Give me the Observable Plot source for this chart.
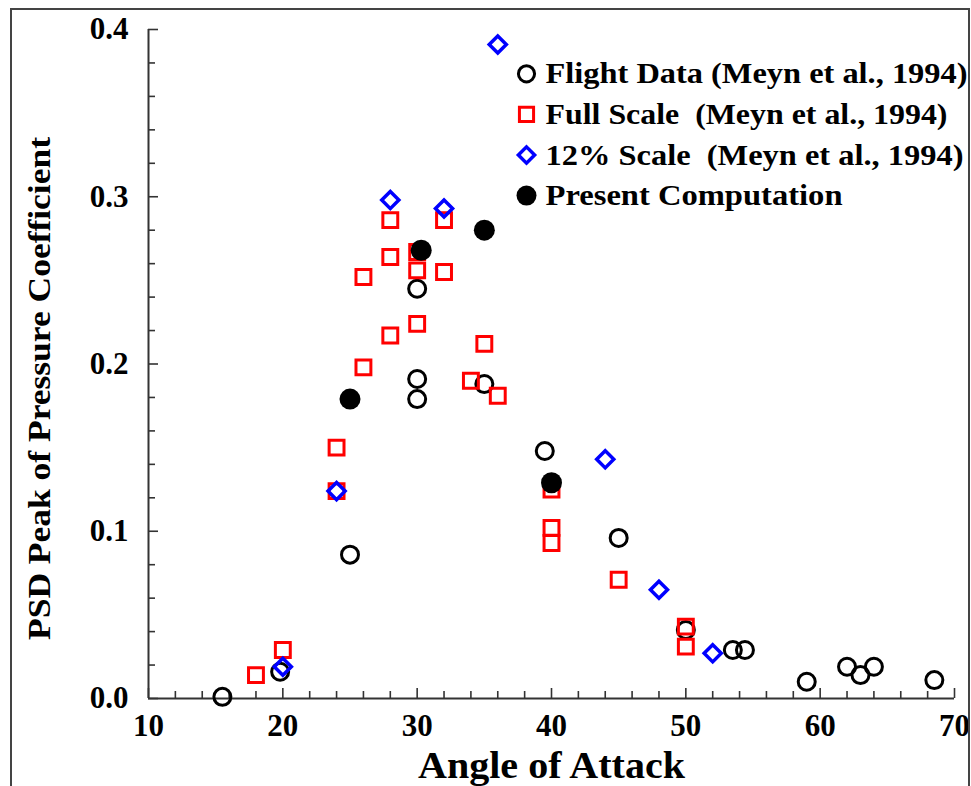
<!DOCTYPE html>
<html><head><meta charset="utf-8">
<script src="https://cdn.jsdelivr.net/npm/d3@7"></script>
<script src="https://cdn.jsdelivr.net/npm/@observablehq/plot@0.6"></script>
<style>
body{margin:0;background:#fff;}
#wrap{position:relative;width:971px;height:786px;overflow:hidden;}
#frame{position:absolute;left:10px;top:8px;width:956px;height:800px;border:2px solid #444;border-bottom:none;pointer-events:none;z-index:2;}
</style></head><body><div id="wrap"><div id="chart"></div><div id="frame"></div></div>
<script>
// Flight Data (Meyn et al., 1994)
const flightAlpha = [15.5, 19.8, 25, 30, 30, 30, 35, 39.5, 45, 50, 53.5, 54.4, 59, 62, 63, 64, 68.5];
const flightPsd   = [0.001, 0.016, 0.086, 0.245, 0.191, 0.179, 0.188, 0.148, 0.096, 0.041, 0.029, 0.029, 0.010, 0.019, 0.014, 0.019, 0.011];
// Full Scale (Meyn et al., 1994)
const fullAlpha = [18, 20, 24, 24, 26, 26, 28, 28, 28, 30, 30, 30, 32, 32, 34, 35, 36, 40, 40, 40, 45, 50, 50];
const fullPsd   = [0.014, 0.029, 0.124, 0.150, 0.252, 0.198, 0.286, 0.264, 0.217, 0.267, 0.256, 0.224, 0.286, 0.255, 0.190, 0.212, 0.181, 0.125, 0.102, 0.093, 0.071, 0.043, 0.031];
// 12% Scale (Meyn et al., 1994)
const scale12Alpha = [20, 24, 28, 32, 36, 44, 48, 52];
const scale12Psd   = [0.019, 0.124, 0.298, 0.293, 0.391, 0.143, 0.065, 0.027];
// Present Computation
const compAlpha = [25, 30.3, 35, 40];
const compPsd   = [0.179, 0.268, 0.280, 0.129];

const xTicks = [10, 20, 30, 40, 50, 60, 70];
const xMinorTicks = [12,14,16,18,22,24,26,28,32,34,36,38,42,44,46,48,52,54,56,58,62,64,66,68];
const yTicks = [0, 0.1, 0.2, 0.3, 0.4];
const yMinorTicks = [0.02,0.04,0.06,0.08,0.12,0.14,0.16,0.18,0.22,0.24,0.26,0.28,0.32,0.34,0.36,0.38];

const xLabel = "Angle of Attack";
const yLabel = "PSD Peak of Pressure Coefficient";
const legendLabels = [
  "Flight Data (Meyn et al., 1994)",
  "Full Scale\u00a0 (Meyn et al., 1994)",
  "12% Scale\u00a0 (Meyn et al., 1994)",
  "Present Computation"
];

const FONT = "'Liberation Serif', 'Times New Roman', Times, serif";
const toRows = (xs, ys) => xs.map((x, i) => ({x, y: ys[i]}));

const styles = [
  {symbol: "circle", r: 8.5, stroke: "#000", fill: "none", strokeWidth: 3},
  {symbol: "square", r: 8.4, stroke: "#ff0000", fill: "none", strokeWidth: 3},
  {symbol: "diamond2", r: 7.7, stroke: "#0000ff", fill: "none", strokeWidth: 3.5},
  {symbol: "circle", r: 10.5, stroke: "none", fill: "#000", strokeWidth: 0}
];
const series = [
  toRows(flightAlpha, flightPsd),
  toRows(fullAlpha, fullPsd),
  toRows(scale12Alpha, scale12Psd),
  toRows(compAlpha, compPsd)
];

const legendMarks = [];
legendLabels.forEach((lab, i) => {
  const s = styles[i];
  legendMarks.push(Plot.dot([0], {x: null, y: null, frameAnchor: "top-left", dx: 378, dy: 44.3 + i * 40.6,
    symbol: s.symbol, r: i === 3 ? 10 : s.r * 0.95, stroke: s.stroke, fill: s.fill, strokeWidth: s.strokeWidth}));
  legendMarks.push(Plot.text([lab], {frameAnchor: "top-left", dx: 397, dy: 44.3 + i * 40.6, text: d => d,
    textAnchor: "start", lineAnchor: "middle", fontSize: 30, fontWeight: "bold", fontFamily: FONT, fill: "#000"}));
});

const axisText = {fontSize: 31, fontWeight: "bold", fontFamily: FONT, fill: "#000", label: null};

const chart = Plot.plot({
  width: 971, height: 786,
  marginLeft: 148, marginRight: 17, marginTop: 29, marginBottom: 88,
  style: {fontFamily: FONT, background: "#fff", overflow: "visible"},
  x: {domain: [10, 70]},
  y: {domain: [0, 0.4]},
  marks: [
    Plot.axisX(xMinorTicks, {tickSize: -7, tickFormat: () => "", stroke: "#333", strokeWidth: 1.6, label: null}),
    Plot.axisX(xTicks, {tickSize: -10, tickFormat: () => "", stroke: "#333", strokeWidth: 1.6, label: null}),
    Plot.axisX(xTicks, {tickSize: 0, tickPadding: 15, tickFormat: d => String(d), ...axisText}),
    Plot.axisY(yMinorTicks, {tickSize: -7, tickFormat: () => "", stroke: "#333", strokeWidth: 1.6, label: null}),
    Plot.axisY(yTicks, {tickSize: -10, tickFormat: () => "", stroke: "#333", strokeWidth: 1.6, label: null}),
    Plot.axisY(yTicks, {tickSize: 0, tickPadding: 20, tickFormat: d3.format(".1f"), ...axisText}),
    Plot.ruleY([0], {stroke: "#333", strokeWidth: 2}),
    Plot.ruleX([10], {stroke: "#333", strokeWidth: 2}),
    ...series.map((rows, i) => Plot.dot(rows, {x: "x", y: "y", ...styles[i]})),
    ...legendMarks,
    Plot.text([xLabel], {frameAnchor: "bottom", dy: 79, lineAnchor: "bottom", text: d => d,
      fontSize: 37, fontWeight: "bold", fontFamily: FONT, fill: "#000"}),
    Plot.text([yLabel], {frameAnchor: "left", dx: -108, dy: 276, rotate: -90, textAnchor: "start", lineAnchor: "middle", text: d => d,
      fontSize: 31, fontWeight: "bold", fontFamily: FONT, fill: "#000"})
  ]
});
document.getElementById("chart").appendChild(chart);

// stretch texts to the reference's measured lengths
const lengths = new Map([
  [xLabel, 267], [yLabel, 503],
  [legendLabels[0], 422], [legendLabels[1], 402], [legendLabels[2], 418], [legendLabels[3], 297]
]);
d3.select(chart).selectAll("text").each(function() {
  const t = this.textContent;
  if (lengths.has(t)) {
    this.setAttribute("textLength", lengths.get(t));
    this.setAttribute("lengthAdjust", "spacingAndGlyphs");
  }
});
</script></body></html>
